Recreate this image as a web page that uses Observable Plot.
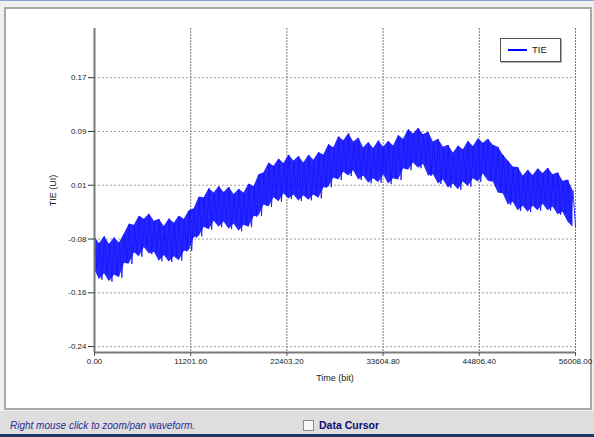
<!DOCTYPE html>
<html><head><meta charset="utf-8">
<script src="https://cdn.jsdelivr.net/npm/d3@7"></script>
<script src="https://cdn.jsdelivr.net/npm/@observablehq/plot@0.6"></script>
<style>
html,body{margin:0;padding:0;background:#f0f0f0;}
#win{position:relative;width:594px;height:437px;overflow:hidden;background:#f0f0f0;font-family:"Liberation Sans",Arial,sans-serif;}
#topline{position:absolute;left:0;top:0;width:594px;height:1px;background:#7ea6d3;}
#panel{position:absolute;left:4px;top:7px;width:584px;height:399px;background:#fff;border:2px solid #a9a9a9;}
#chart{position:absolute;left:0;top:0;}
#legend{position:absolute;left:500px;top:38px;width:59px;height:22px;background:#fff;border:1px solid #555;box-shadow:1px 1px 0 #b0b0b0;}
#legend .sw{position:absolute;left:7px;top:10px;width:19px;height:2px;background:#0000ff;}
#legend .lb{position:absolute;left:31px;top:5px;font-size:9.5px;line-height:11px;color:#222;}
#status{position:absolute;left:0;top:411px;width:594px;height:23px;background:#dedede;}
#status .msg{position:absolute;left:10px;top:9px;font-size:10px;line-height:11px;font-style:italic;color:#2a2a96;}
#status .cb{position:absolute;left:303px;top:9px;width:9px;height:9px;background:#f8f8f8;border:1px solid #8a8a8a;}
#status .dc{position:absolute;left:319px;top:8px;font-size:10.5px;line-height:12px;font-weight:bold;color:#0c0c72;}
#bottomline{position:absolute;left:0;top:434px;width:594px;height:3px;background:#1d3c63;}
</style>
</head><body>
<div id="win">
  <div id="topline"></div>
  <div id="panel"></div>
  <div id="chart"></div>
  <div id="legend"><div class="sw"></div><div class="lb">TIE</div></div>
  <div id="status">
    <div class="msg">Right mouse click to zoom/pan waveform.</div>
    <div class="cb"></div>
    <div class="dc">Data Cursor</div>
  </div>
  <div id="bottomline"></div>
</div>
<script>
// ---- data ----
const timeMax = 56008;
const xTicks = [0, 11201.6, 22403.2, 33604.8, 44806.4, 56008];
const xTickLabels = ["0.00", "11201.60", "22403.20", "33604.80", "44806.40", "56008.00"];
const yTicks = [-0.24, -0.158, -0.076, 0.006, 0.088, 0.17];
const yTickLabels = ["-0.24", "-0.16", "-0.08", "0.01", "0.09", "0.17"];
const yDomain = [-0.249, 0.245];

// upper and lower excursions of the TIE trace, evenly spaced over 0..56008 bits
const tieHigh = [
-0.072, -0.083, -0.072, -0.084, -0.074, -0.082, -0.068, -0.053, -0.055, -0.041,
-0.046, -0.038, -0.049, -0.046, -0.057, -0.045, -0.052, -0.041, -0.046, -0.033,
-0.030, -0.012, -0.013, 0.001, -0.006, 0.004, -0.005, 0.003, -0.008, 0.000,
-0.006, 0.008, 0.004, 0.022, 0.025, 0.040, 0.035, 0.046, 0.039, 0.052,
0.043, 0.050, 0.040, 0.052, 0.044, 0.056, 0.052, 0.068, 0.063, 0.080,
0.074, 0.085, 0.072, 0.078, 0.063, 0.071, 0.062, 0.074, 0.064, 0.073,
0.066, 0.082, 0.076, 0.091, 0.084, 0.093, 0.083, 0.087, 0.072, 0.076,
0.064, 0.067, 0.055, 0.066, 0.060, 0.073, 0.065, 0.077, 0.070, 0.076,
0.067, 0.064, 0.052, 0.043, 0.034, 0.033, 0.020, 0.029, 0.021, 0.031,
0.024, 0.032, 0.022, 0.025, 0.012, 0.014, -0.002
];
const tieLow = [
-0.122, -0.138, -0.129, -0.141, -0.131, -0.135, -0.113, -0.114, -0.097, -0.103,
-0.089, -0.099, -0.096, -0.110, -0.101, -0.111, -0.103, -0.109, -0.095, -0.094,
-0.074, -0.072, -0.058, -0.062, -0.049, -0.058, -0.050, -0.061, -0.053, -0.064,
-0.055, -0.058, -0.042, -0.041, -0.024, -0.027, -0.013, -0.019, -0.007, -0.015,
-0.009, -0.018, -0.010, -0.017, -0.009, -0.014, 0.002, 0.003, 0.017, 0.014,
0.026, 0.020, 0.028, 0.014, 0.020, 0.009, 0.016, 0.010, 0.022, 0.008,
0.016, 0.014, 0.031, 0.029, 0.040, 0.032, 0.038, 0.020, 0.022, 0.008,
0.014, 0.002, 0.008, -0.001, 0.011, 0.004, 0.016, 0.011, 0.023, 0.012,
0.011, -0.006, -0.007, -0.024, -0.020, -0.033, -0.026, -0.035, -0.026, -0.033,
-0.023, -0.033, -0.027, -0.039, -0.035, -0.050, -0.058
];

// ---- build tables ----
const dt = timeMax / (2 * tieHigh.length - 1);
const band = tieHigh.map((h, i) => ({t: 2 * i * dt, hi: h, lo: tieLow[i]}));
const trace = tieHigh.flatMap((h, i) => [{t: 2 * i * dt, v: h}, {t: (2 * i + 1) * dt, v: tieLow[i]}]);

const chart = Plot.plot({
  width: 594, height: 410,
  marginLeft: 94, marginRight: 19, marginTop: 28, marginBottom: 58,
  style: {background: "transparent", fontFamily: "'Liberation Sans', Arial, sans-serif", fontSize: "8px", color: "#222", overflow: "visible"},
  x: {domain: [0, timeMax]},
  y: {domain: yDomain},
  marks: [
    Plot.gridY(yTicks, {stroke: "#a0a0a0", strokeOpacity: 1, strokeDasharray: "2,2"}),
    Plot.gridX(xTicks.slice(1), {stroke: "#7a7a7a", strokeOpacity: 1, strokeDasharray: "2,1"}),
    Plot.areaY(band, {x: "t", y1: "lo", y2: "hi", fill: "#0000ff", fillOpacity: 0.85}),
    Plot.line(trace, {x: "t", y: "v", stroke: "#1515ff", strokeWidth: 1, strokeOpacity: 0.85}),
    Plot.ruleX([0], {stroke: "#7a7a7a", strokeWidth: 2}),
    Plot.ruleY([yDomain[0]], {stroke: "#7a7a7a", strokeWidth: 2}),
    Plot.axisY(yTicks, {tickSize: 6, tickPadding: 2, stroke: "#333",
      tickFormat: d => yTickLabels[yTicks.indexOf(d)],
      label: "TIE (UI)", labelAnchor: "center", labelArrow: "none", labelOffset: 45}),
    Plot.axisX(xTicks, {tickSize: 4, tickPadding: 2, stroke: "#555",
      tickFormat: d => xTickLabels[xTicks.indexOf(d)],
      label: "Time (bit)", labelAnchor: "center", labelArrow: "none", labelOffset: 28})
  ]
});
for (const g of chart.querySelectorAll('g[aria-label$="axis label"]')) g.setAttribute("font-size", "9px");
document.getElementById("chart").appendChild(chart);
</script>
</body></html>
